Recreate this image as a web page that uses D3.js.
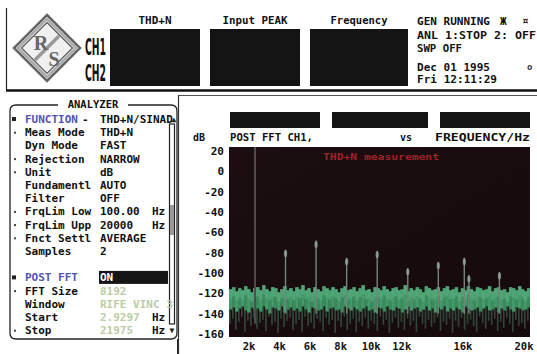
<!DOCTYPE html>
<html><head><meta charset="utf-8">
<script src="https://cdn.jsdelivr.net/npm/d3@7/dist/d3.min.js"></script>
<style>
html,body{margin:0;padding:0;background:#fff;}
svg{display:block;}
text{font-family:"DejaVu Sans Mono",monospace;font-weight:bold;}
</style></head>
<body>
<svg id="c" width="537" height="354"></svg>
<script>
// ---------- data ----------
const headerTitles = ["THD+N","Input PEAK","Frequency"];
const statusLines = ["GEN RUNNING","ANL 1:STOP 2: OFF","SWP OFF","Dec 01 1995","Fri 12:11:29"];
const menuLabels = ["FUNCTION","Meas Mode","Dyn Mode","Rejection","Unit","Fundamentl","Filter","FrqLim Low","FrqLim Upp","Fnct Settl","Samples","","POST FFT","FFT Size","Window","Start","Stop"];
const menuValues = ["THD+N/SINAD","THD+N","FAST","NARROW","dB","AUTO","OFF","100.00","20000","AVERAGE","2","","ON","8192","RIFE VINC 3","2.9297","21975"];
const menuUnits  = ["","","","","","","","Hz","Hz","","","","","","","Hz","Hz"];
const menuBullets = ["■","·","","·","·","","","·","·","·","","","■","·","","","·"];
const yTicks = [20,0,-20,-40,-60,-80,-100,-120,-140,-160];
const xTicks = [2,4,6,8,10,12,16,20];
const xTickLabels = ["2k","4k","6k","8k","10k","12k","16k","20k"];
const fundamentalFreq = 2;      // kHz
const fundamentalDb = 24;
const harmFreq = [4,6,8,10,12,14,15.7,16,18];
const harmDb   = [-77,-68,-85,-78,-95,-89,-85,-102,-99];
const noiseStart = 0.3, noiseStep = 0.197; // kHz per bin
const noiseTop = [-116,-114,-118,-115,-117,-113,-116,-119,-115,-114,
 -117,-112,-116,-118,-114,-115,-119,-116,-113,-117,
 -115,-118,-114,-116,-112,-117,-115,-119,-114,-116,
 -118,-113,-115,-117,-114,-116,-119,-115,-113,-117,
 -116,-114,-118,-115,-112,-117,-116,-119,-114,-115,
 -117,-113,-116,-118,-115,-114,-117,-116,-112,-118,
 -115,-117,-114,-116,-119,-113,-115,-117,-116,-114,
 -118,-115,-113,-117,-116,-114,-119,-115,-117,-113,
 -116,-118,-114,-115,-117,-116,-113,-118,-115,-114,
 -117,-116,-119,-114,-115,-117,-113,-116,-118,-115];
const noiseMid = [-136,-134,-138,-135,-133,-137,-139,-134,-136,-135,
 -138,-133,-136,-140,-134,-135,-137,-133,-139,-136,
 -134,-137,-135,-138,-133,-136,-139,-134,-135,-137,
 -136,-133,-138,-135,-134,-137,-136,-139,-133,-135,
 -137,-134,-136,-138,-135,-133,-137,-136,-139,-134,
 -135,-138,-133,-136,-137,-134,-135,-139,-136,-133,
 -137,-135,-134,-138,-136,-133,-137,-135,-139,-134,
 -136,-133,-138,-135,-137,-134,-136,-139,-133,-135,
 -137,-136,-134,-138,-135,-133,-137,-136,-134,-139,
 -135,-137,-133,-136,-138,-134,-135,-137,-136,-134];
const noiseLow = [-150,-145,-156,-148,-143,-158,-147,-152,-144,-155,
 -149,-146,-157,-143,-151,-148,-159,-145,-153,-147,
 -144,-156,-150,-146,-158,-143,-152,-149,-155,-145,
 -148,-157,-144,-151,-146,-159,-147,-153,-143,-156,
 -150,-145,-158,-148,-152,-144,-155,-147,-150,-157,
 -143,-151,-146,-159,-149,-144,-154,-148,-156,-145,
 -152,-147,-158,-143,-150,-155,-146,-153,-149,-144,
 -157,-148,-151,-145,-159,-147,-153,-144,-156,-150,
 -146,-152,-158,-143,-149,-155,-147,-151,-145,-157,
 -148,-154,-144,-150,-158,-146,-152,-149,-155,-147];

// ---------- drawing ----------
const svg = d3.select("#c");

// header frame
svg.append("line").attr("x1",6.5).attr("x2",6.5).attr("y1",8).attr("y2",90).attr("stroke","#222").attr("stroke-width",1.2);
svg.append("line").attr("x1",6).attr("x2",537).attr("y1",90.5).attr("y2",90.5).attr("stroke","#111").attr("stroke-width",2.5);

// logo
const logo = svg.append("g").attr("transform","translate(47,48)");
const dia = r => `M0,${-r}L${r},0L0,${r}L${-r},0Z`;
logo.append("path").attr("d",dia(33)).attr("fill","#fff").attr("stroke","#666").attr("stroke-width",2.5);
logo.append("path").attr("d",dia(29)).attr("fill","none").attr("stroke","#aaa").attr("stroke-width",2.5);
logo.append("path").attr("d",dia(25.5)).attr("fill","#f0f0f0").attr("stroke","#555").attr("stroke-width",1.2);
logo.append("line").attr("x1",-12).attr("y1",12).attr("x2",12).attr("y2",-12).attr("stroke","#999").attr("stroke-width",3.5);
logo.append("text").attr("x",-6).attr("y",2).attr("text-anchor","middle").style("font-family","Liberation Serif,serif").style("font-size","20px").style("font-weight","bold").attr("fill","#666").text("R");
logo.append("text").attr("x",7).attr("y",18).attr("text-anchor","middle").style("font-family","Liberation Serif,serif").style("font-size","20px").style("font-weight","bold").attr("fill","#666").text("S");

// CH1 / CH2
[["CH1",55],["CH2",81]].forEach(([t,yy])=>{
  svg.append("text").attr("x",85).attr("y",yy).attr("textLength",21).attr("lengthAdjust","spacingAndGlyphs")
    .style("font-family","DejaVu Sans Condensed,sans-serif").style("font-weight","bold").style("font-size","23px").attr("fill","#111").text(t);
});

// header boxes
const hbX = [110,210,310], hbW = [90,90,98], htL=[33,65,57];
headerTitles.forEach((t,i)=>{
  svg.append("rect").attr("x",hbX[i]).attr("y",29).attr("width",hbW[i]).attr("height",57).attr("fill","#141414");
  svg.append("text").attr("x",hbX[i]+hbW[i]/2).attr("y",24).attr("text-anchor","middle")
    .attr("textLength",htL[i]).attr("lengthAdjust","spacingAndGlyphs").style("font-size","10.5px").attr("fill","#111").text(t);
});

// status text
const stY=[25,39,52,71,83], stL=[73,119,45,73,80];
statusLines.forEach((t,i)=>{
  svg.append("text").attr("x",417).attr("y",stY[i]).attr("textLength",stL[i]).attr("lengthAdjust","spacingAndGlyphs")
    .style("font-size","11px").attr("fill","#111").text(t);
});
svg.append("text").attr("x",500).attr("y",25).style("font-size","11px").attr("fill","#111").text("Ж");
svg.append("text").attr("x",522).attr("y",25).style("font-size","11px").attr("fill","#111").text("¤");
svg.append("text").attr("x",527).attr("y",70).style("font-size","9px").attr("fill","#333").text("o");

// ---------- left analyzer panel ----------
const panel = svg.append("g");
panel.append("path").attr("d","M10,111 Q10,105 16,105 L171,105 Q177,105 177,111 L177,333 Q177,339 171,339 L16,339 Q10,339 10,333 Z")
  .attr("fill","#fff").attr("stroke","#222").attr("stroke-width",1.3);
panel.append("rect").attr("x",58).attr("y",98).attr("width",70).attr("height",12).attr("fill","#fff");
panel.append("text").attr("x",93).attr("y",108).attr("text-anchor","middle").style("font-size","10.5px").attr("fill","#111").text("ANALYZER");
// scrollbar
panel.append("rect").attr("x",169.5).attr("y",124).attr("width",5).attr("height",200).attr("fill","#fff").attr("stroke","#222").attr("stroke-width",1.2);
panel.append("rect").attr("x",170).attr("y",205).attr("width",4).attr("height",30).attr("fill","#9a9a9a");
panel.append("text").attr("x",174).attr("y",122).attr("text-anchor","middle").style("font-size","8px").attr("fill","#222").text("▲");
panel.append("text").attr("x",172).attr("y",333).attr("text-anchor","middle").style("font-size","8px").attr("fill","#222").text("▼");

const rowY = i => 119 + 13.2*i;
// highlight ON
panel.append("rect").attr("x",99).attr("y",rowY(12)-6.5).attr("width",69).attr("height",13).attr("fill","#151515");
menuLabels.forEach((lab,i)=>{
  if(!lab) return;
  const yy = rowY(i)+4;
  const special = (i===0||i===12);
  if(menuBullets[i]==="■") panel.append("rect").attr("x",12).attr("y",rowY(i)-2).attr("width",4).attr("height",4).attr("fill","#222");
  else if(menuBullets[i]==="·") panel.append("rect").attr("x",14).attr("y",rowY(i)-0.5).attr("width",2).attr("height",2).attr("fill","#444");
  panel.append("text").attr("x",25).attr("y",yy).style("font-size","11px").attr("fill",special?"#5252b4":"#111").text(lab);
  let vcol = "#111";
  if(i===12) vcol="#fff"; else if(i>12) vcol="#bccca4";
  panel.append("text").attr("x",100).attr("y",yy).style("font-size","11px").attr("fill",vcol).text(menuValues[i]);
  if(menuUnits[i]) panel.append("text").attr("x",152).attr("y",yy).style("font-size","11px").attr("fill","#111").text(menuUnits[i]);
});
panel.append("text").attr("x",82).attr("y",rowY(0)+4).style("font-size","11px").attr("fill","#111").text("-");
svg.append("line").attr("x1",177.5).attr("x2",177.5).attr("y1",339).attr("y2",354).attr("stroke","#222");

// ---------- main plot panel ----------
svg.append("line").attr("x1",178).attr("x2",537).attr("y1",95.5).attr("y2",95.5).attr("stroke","#555").attr("stroke-width",1);
svg.append("line").attr("x1",178.5).attr("x2",178.5).attr("y1",95).attr("y2",354).attr("stroke","#333").attr("stroke-width",1.2);
[[230,90],[332,96],[440,90]].forEach(([bx,bw])=>{
  svg.append("rect").attr("x",bx).attr("y",112).attr("width",bw).attr("height",16).attr("fill","#141414");
});
svg.append("text").attr("x",193).attr("y",141).attr("textLength",12).attr("lengthAdjust","spacingAndGlyphs").style("font-size","10.5px").attr("fill","#111").text("dB");
svg.append("text").attr("x",230).attr("y",141).attr("textLength",83).attr("lengthAdjust","spacingAndGlyphs").style("font-size","10.5px").attr("fill","#111").text("POST FFT CH1,");
svg.append("text").attr("x",400).attr("y",141).attr("textLength",12).attr("lengthAdjust","spacingAndGlyphs").style("font-size","10.5px").attr("fill","#111").text("vs");
svg.append("text").attr("x",435).attr("y",141).attr("textLength",95).attr("lengthAdjust","spacingAndGlyphs").style("font-size","10.5px").attr("fill","#111").text("FREQUENCY/Hz");

const x = d3.scaleLinear().domain([0.3,20]).range([229,530]);
const y = d3.scaleLinear().domain([-163,24]).range([337,147]);

svg.append("defs").append("clipPath").attr("id","pc").append("rect")
  .attr("x",229).attr("y",147).attr("width",301).attr("height",190);
const grad = svg.select("defs").append("linearGradient").attr("id","bg").attr("x1",0).attr("y1",0).attr("x2",1).attr("y2",1);
grad.append("stop").attr("offset","0").attr("stop-color","#1c0e10");
grad.append("stop").attr("offset","1").attr("stop-color","#150a0c");
svg.append("rect").attr("x",229).attr("y",147).attr("width",301).attr("height",190).attr("fill","url(#bg)");

const plot = svg.append("g").attr("clip-path","url(#pc)");
const bw = x(noiseStart+noiseStep)-x(noiseStart);
const bins = noiseTop.map((t,i)=>({f:noiseStart+i*noiseStep, t, m:noiseMid[i], l:noiseLow[i]}));
// faint streaks below the band
plot.selectAll(".lo").data(bins).join("rect")
  .attr("x",d=>x(d.f)).attr("width",Math.max(1,bw*0.55))
  .attr("y",d=>y(d.m)).attr("height",d=>y(d.l)-y(d.m)).attr("fill","#3a5444").attr("opacity",0.8);
// main green band
plot.selectAll(".band").data(bins).join("rect")
  .attr("x",d=>x(d.f)).attr("width",bw+0.4)
  .attr("y",d=>y(d.t)).attr("height",d=>y(d.m)-y(d.t))
  .attr("fill",(d,i)=> i%2 ? "#3a8a5c" : "#44996a");
// lighter top portion
plot.selectAll(".hi").data(bins).join("rect")
  .attr("x",d=>x(d.f)).attr("width",bw+0.4)
  .attr("y",d=>y(d.t)).attr("height",d=>y(d.t-9)-y(d.t))
  .attr("fill","#58ad80").attr("opacity",0.65);

// fundamental
plot.append("line").attr("x1",x(fundamentalFreq)).attr("x2",x(fundamentalFreq))
  .attr("y1",y(fundamentalDb)).attr("y2",y(-150)).attr("stroke","#4e4e4e").attr("stroke-width",2);
// harmonics
harmFreq.forEach((f,i)=>{
  plot.append("line").attr("x1",x(f)).attr("x2",x(f)).attr("y1",y(harmDb[i])).attr("y2",y(-140))
    .attr("stroke","#74867b").attr("stroke-width",1.4);
  plot.append("ellipse").attr("cx",x(f)).attr("cy",y(harmDb[i])+4).attr("rx",1.6).attr("ry",3.5).attr("fill","#91a396").attr("opacity",0.85);
});
svg.append("text").attr("x",323).attr("y",160).attr("textLength",116).attr("lengthAdjust","spacingAndGlyphs")
  .style("font-size","9.5px").attr("fill","#a3202a").text("THD+N measurement");

// axes labels
svg.selectAll(".yt").data(yTicks).join("text")
  .attr("x",224).attr("y",d=>y(d)+4).attr("text-anchor","end").style("font-size","11px").attr("fill","#111").text(d=>d);
svg.selectAll(".xt").data(xTicks).join("text")
  .attr("x",d=>x(d)-6).attr("y",350).attr("text-anchor","middle").style("font-size","10.5px").attr("fill","#111")
  .text((d,i)=>xTickLabels[i]);
</script>
</body></html>
